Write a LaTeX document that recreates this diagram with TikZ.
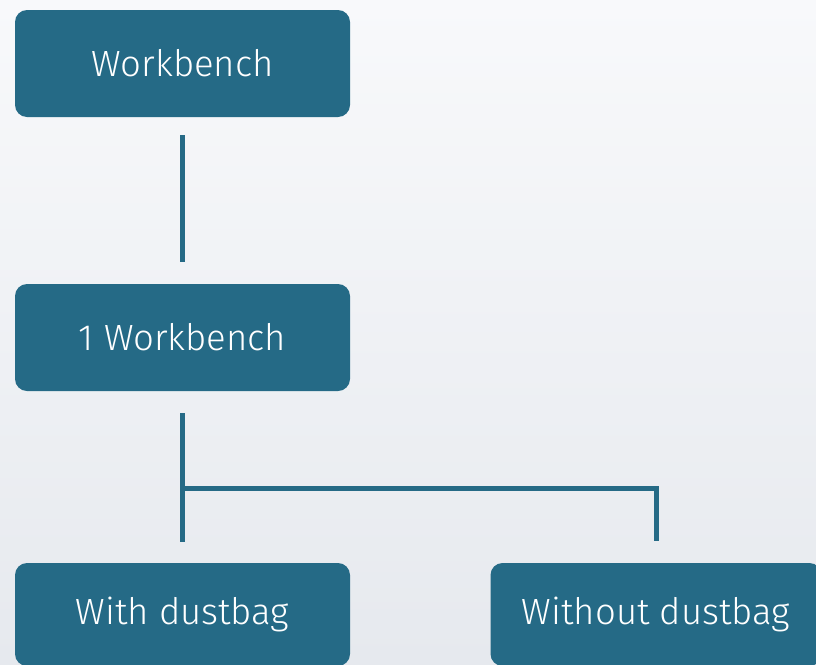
\documentclass[tikz,border=0pt]{standalone}
\usepackage{fontspec}
\newfontfamily\boxfont{Fira Sans Light}
\definecolor{boxblue}{HTML}{256A86}
\definecolor{bgtop}{HTML}{F8F9FB}
\definecolor{bgbottom}{HTML}{E6E9EE}
\begin{document}
\begin{tikzpicture}[x=1pt,y=-1pt,
    box/.style={fill=boxblue,text=white,rounded corners=12pt,inner sep=0pt,
      minimum width=335pt,minimum height=107pt,font=\boxfont\fontsize{36.5}{42}\selectfont},
    link/.style={draw=boxblue,line width=5pt}]
  \useasboundingbox (0,0) rectangle (816,664);
  \clip (0,0) rectangle (816,664);
  \shade[top color=bgtop,bottom color=bgbottom] (0,0) rectangle (816,664);

  \node[box] (bench) at (182.5,63.5) {Workbench};
  \node[box] (one) at (182.5,337.5) {1 Workbench};
  \node[box,minimum height=103pt] (with) at (182.5,614.5) {With dustbag};
  \node[box,minimum width=331pt,minimum height=103pt] (without) at (656,614.5) {Without dustbag};
  \coordinate (split) at (182.5,488.5);

  \draw[link,shorten <=18pt,shorten >=22pt] (bench) -- (one);
  \draw[link,shorten <=22pt,shorten >=21pt] (one) -- (with);
  \draw[link,shorten >=22pt] (split) -| (without.north);
\end{tikzpicture}
\end{document}
